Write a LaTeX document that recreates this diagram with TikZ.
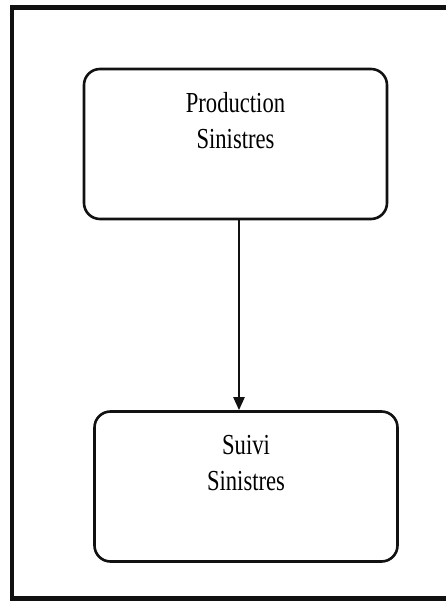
\documentclass[tikz,border=0pt]{standalone}
\usepackage{fontspec}
\setmainfont{Liberation Serif}
\usepackage{xcolor}
\definecolor{DarkGrey}{HTML}{111111}
\usepackage{tikz}
\usetikzlibrary{calc,arrows.meta,positioning}
\newcommand\PageW{446}
\newcommand\PageH{602}
\newcommand\BoxW{303pt}
\newcommand\BoxH{150pt}
\newcommand\TextDrop{-53pt}
\tikzstyle{frame}=[draw=DarkGrey,line width=4.5pt]
\tikzstyle{stage}=[rectangle,rounded corners=16pt,draw=DarkGrey,line width=2.6pt,
                     minimum height=\BoxH,minimum width=\BoxW]
\tikzstyle{stagetext}=[align=center,xscale=0.78,
                     font=\fontsize{29}{36}\selectfont]
\tikzstyle{flow}=[draw=DarkGrey,line width=2.2pt,-{Triangle[length=13pt,width=11pt]}]

\begin{document}
\begin{tikzpicture}[x=1pt,y=1pt]
      \useasboundingbox (0,0) rectangle (\PageW,\PageH);
      \clip (0,0) rectangle (\PageW,\PageH);
      \draw[frame] (12,3.5) rectangle (470,594.5);
      % the two stages
      \node[stage] (prod) at (235.5,458) {};
      \node[stagetext] (prodtext) at ([yshift=\TextDrop]prod.north) {Production\\Sinistres};
      \node[stage] (suivi) at (246,115.5) {};
      \node[stagetext] (suivitext) at ([yshift=\TextDrop]suivi.north) {Suivi\\Sinistres};
      \draw[flow] ([xshift=3.5pt]prod.south) -- ([xshift=3.5pt]prod.south |- suivi.north);
   \end{tikzpicture}
\end{document}
